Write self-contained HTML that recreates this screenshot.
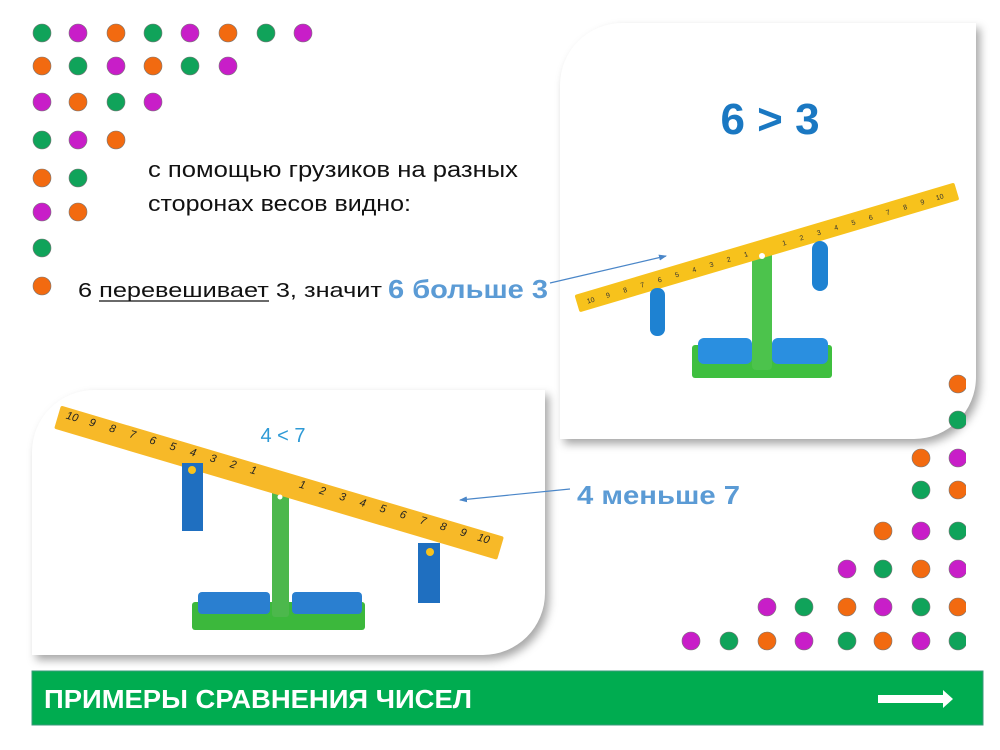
<!DOCTYPE html>
<html><head><meta charset="utf-8"><style>
html,body{margin:0;padding:0;background:#fff;width:1000px;height:750px;overflow:hidden}
.p{position:absolute;background:#fff;border-radius:62px 0 62px 0;box-shadow:4px 5px 9px rgba(0,0,0,.35)}
svg{position:absolute;left:0;top:0}
</style></head><body>
<div class="p" style="left:560px;top:23px;width:416px;height:416px"></div>
<div class="p" style="left:32px;top:390px;width:513px;height:265px"></div>
<svg width="1000" height="750" viewBox="0 0 1000 750" font-family="Liberation Sans, sans-serif">
<defs>
<marker id="ah" markerWidth="8" markerHeight="8" refX="7" refY="4" orient="auto" markerUnits="userSpaceOnUse"><path d="M0,1 L8,4 L0,7z" fill="#4a86c8"/></marker>
<clipPath id="cl"><rect x="0" y="0" width="966" height="750"/></clipPath>
</defs>
<g stroke="#777" stroke-width="0.6" clip-path="url(#cl)">
<g fill="#10a35a"><circle cx="42" cy="33" r="9"/><circle cx="153" cy="33" r="9"/><circle cx="266" cy="33" r="9"/><circle cx="78" cy="66" r="9"/><circle cx="190" cy="66" r="9"/><circle cx="116" cy="102" r="9"/><circle cx="42" cy="140" r="9"/><circle cx="78" cy="178" r="9"/><circle cx="42" cy="248" r="9"/></g>
<g fill="#c81ec8"><circle cx="78" cy="33" r="9"/><circle cx="190" cy="33" r="9"/><circle cx="303" cy="33" r="9"/><circle cx="116" cy="66" r="9"/><circle cx="228" cy="66" r="9"/><circle cx="42" cy="102" r="9"/><circle cx="153" cy="102" r="9"/><circle cx="78" cy="140" r="9"/><circle cx="42" cy="212" r="9"/></g>
<g fill="#f26a10"><circle cx="116" cy="33" r="9"/><circle cx="228" cy="33" r="9"/><circle cx="42" cy="66" r="9"/><circle cx="153" cy="66" r="9"/><circle cx="78" cy="102" r="9"/><circle cx="116" cy="140" r="9"/><circle cx="42" cy="178" r="9"/><circle cx="78" cy="212" r="9"/><circle cx="42" cy="286" r="9"/></g>
<g fill="#f26a10"><circle cx="958" cy="384" r="9"/><circle cx="921" cy="458" r="9"/><circle cx="958" cy="490" r="9"/><circle cx="883" cy="531" r="9"/><circle cx="921" cy="569" r="9"/><circle cx="847" cy="607" r="9"/><circle cx="958" cy="607" r="9"/><circle cx="767" cy="641" r="9"/><circle cx="883" cy="641" r="9"/></g>
<g fill="#10a35a"><circle cx="958" cy="420" r="9"/><circle cx="921" cy="490" r="9"/><circle cx="958" cy="531" r="9"/><circle cx="883" cy="569" r="9"/><circle cx="804" cy="607" r="9"/><circle cx="921" cy="607" r="9"/><circle cx="729" cy="641" r="9"/><circle cx="847" cy="641" r="9"/><circle cx="958" cy="641" r="9"/></g>
<g fill="#c81ec8"><circle cx="958" cy="458" r="9"/><circle cx="921" cy="531" r="9"/><circle cx="847" cy="569" r="9"/><circle cx="958" cy="569" r="9"/><circle cx="767" cy="607" r="9"/><circle cx="883" cy="607" r="9"/><circle cx="691" cy="641" r="9"/><circle cx="804" cy="641" r="9"/><circle cx="921" cy="641" r="9"/></g>
</g>
<text x="148" y="177" font-size="22" fill="#111" textLength="370" lengthAdjust="spacingAndGlyphs">с помощью грузиков на разных</text>
<text x="148" y="211" font-size="22" fill="#111" textLength="263" lengthAdjust="spacingAndGlyphs">сторонах весов видно:</text>
<text x="78" y="297" font-size="20" fill="#111" textLength="304" lengthAdjust="spacingAndGlyphs">6 перевешивает 3, значит</text>
<line x1="99" y1="301" x2="269" y2="301" stroke="#111" stroke-width="1.3"/>
<text x="388" y="298" font-size="26" font-weight="bold" fill="#5b9bd5" textLength="160" lengthAdjust="spacingAndGlyphs">6 больше 3</text>
<text x="577" y="504" font-size="26" font-weight="bold" fill="#5b9bd5" textLength="163" lengthAdjust="spacingAndGlyphs">4 меньше 7</text>
<line x1="550" y1="283" x2="666" y2="256" stroke="#4a86c8" stroke-width="1.2" marker-end="url(#ah)"/>
<line x1="570" y1="489" x2="460" y2="500" stroke="#4a86c8" stroke-width="1.2" marker-end="url(#ah)"/>
<text x="770" y="134" font-size="44" font-weight="bold" fill="#1a78c2" text-anchor="middle">6 &gt; 3</text>
<text x="283" y="442" font-size="20" fill="#2e9ad6" text-anchor="middle">4 &lt; 7</text>
<rect x="692" y="345" width="140" height="33" rx="3" fill="#3fbf3f"/>
<rect x="698" y="338" width="54" height="26" rx="6" fill="#2a8fe0"/>
<rect x="772" y="338" width="56" height="26" rx="6" fill="#2a8fe0"/>
<rect x="752" y="242" width="20" height="128" rx="4" fill="#4cc34c"/>
<g transform="translate(765,248) rotate(-16.5)">
<rect x="-196" y="-9" width="396" height="18" rx="2" fill="#f7c21c"/>
<g font-size="7" fill="#333" text-anchor="middle">
<text x="-182" y="3">10</text><text x="-164" y="3">9</text><text x="-146" y="3">8</text><text x="-128" y="3">7</text><text x="-110" y="3">6</text><text x="-92" y="3">5</text><text x="-74" y="3">4</text><text x="-56" y="3">3</text><text x="-38" y="3">2</text><text x="-20" y="3">1</text>
<text x="20" y="3">1</text><text x="38" y="3">2</text><text x="56" y="3">3</text><text x="74" y="3">4</text><text x="92" y="3">5</text><text x="110" y="3">6</text><text x="128" y="3">7</text><text x="146" y="3">8</text><text x="164" y="3">9</text><text x="182" y="3">10</text></g>
</g>
<rect x="650" y="288" width="15" height="48" rx="7" fill="#1e82d2"/>
<rect x="812" y="241" width="16" height="50" rx="8" fill="#1e82d2"/>
<circle cx="762" cy="256" r="3" fill="#fff"/>
<rect x="192" y="602" width="173" height="28" rx="3" fill="#3cb83c"/>
<rect x="198" y="592" width="72" height="22" rx="4" fill="#2a7fd0"/>
<rect x="292" y="592" width="70" height="22" rx="4" fill="#2a7fd0"/>
<rect x="272" y="487" width="17" height="130" rx="3" fill="#4cb84c"/>
<g transform="translate(280,483) rotate(16.5)">
<rect x="-232" y="-12" width="462" height="24" rx="2" fill="#f7b928"/>
<g font-size="11" fill="#222" text-anchor="middle" font-style="italic">
<text x="-218" y="-1">10</text><text x="-197" y="-1">9</text><text x="-176" y="-1">8</text><text x="-155" y="-1">7</text><text x="-134" y="-1">6</text><text x="-113" y="-1">5</text><text x="-92" y="-1">4</text><text x="-71" y="-1">3</text><text x="-50" y="-1">2</text><text x="-29" y="-1">1</text>
<text x="22" y="-1">1</text><text x="43" y="-1">2</text><text x="64" y="-1">3</text><text x="85" y="-1">4</text><text x="106" y="-1">5</text><text x="127" y="-1">6</text><text x="148" y="-1">7</text><text x="169" y="-1">8</text><text x="190" y="-1">9</text><text x="211" y="-1">10</text></g>
</g>
<rect x="182" y="463" width="21" height="68" fill="#1f6fc0"/>
<circle cx="192" cy="470" r="4" fill="#f7c21c"/>
<rect x="418" y="543" width="22" height="60" fill="#1f6fc0"/>
<circle cx="430" cy="552" r="4" fill="#f7c21c"/>
<circle cx="280" cy="497" r="2.5" fill="#fff"/>
<rect x="32" y="671" width="951" height="54" fill="#00ac50" stroke="#3a9a7a" stroke-width="1"/>
<text x="44" y="708" font-size="26" font-weight="bold" fill="#fff" textLength="428" lengthAdjust="spacingAndGlyphs">ПРИМЕРЫ СРАВНЕНИЯ ЧИСЕЛ</text>
<path d="M878,695 H943 V690 L953,699 L943,708 V703 H878 Z" fill="#fff"/>
</svg>
</body></html>
